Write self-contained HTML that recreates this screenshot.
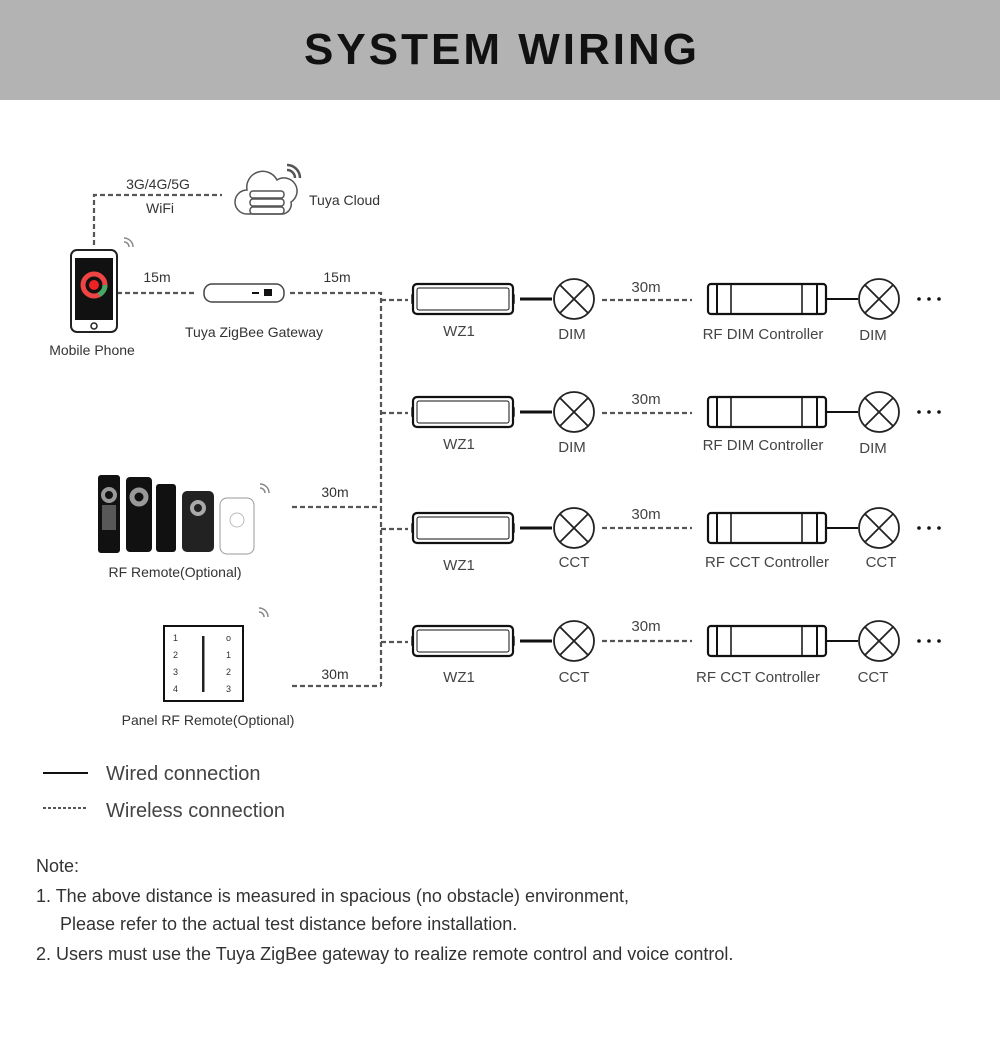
<!DOCTYPE html>
<html><head><meta charset="utf-8"><style>
html,body{margin:0;padding:0;background:#fff}
body{width:1000px;height:1036px;overflow:hidden;font-family:"Liberation Sans",sans-serif}
</style></head><body>
<svg width="1000" height="1036" viewBox="0 0 1000 1036" xmlns="http://www.w3.org/2000/svg" font-family="Liberation Sans, sans-serif">
<rect x="0" y="0" width="1000" height="100" fill="#b3b3b3"/>
<text x="502" y="64" text-anchor="middle" font-size="44" font-weight="bold" fill="#111" letter-spacing="3">SYSTEM WIRING</text>

<g stroke="#555" stroke-width="2.2" stroke-dasharray="5,3" fill="none">
<path d="M94 245 V195 H222"/>
<path d="M117 293 H196"/>
<path d="M290 293 H381 V686"/>
<path d="M381 300 H408"/>
<path d="M381 413 H408"/>
<path d="M381 529 H408"/>
<path d="M381 642 H408"/>
<path d="M292 507 H381"/>
<path d="M292 686 H381"/>
<path d="M602 300 H692"/><path d="M602 413 H692"/><path d="M602 528 H692"/><path d="M602 641 H692"/>
<path d="M43 808 H88" stroke-dasharray="3,2" stroke-width="2"/>
</g>
<path d="M43 773 H88" stroke="#111" stroke-width="2"/>

<g font-size="14" fill="#333">
<text x="158" y="189" text-anchor="middle">3G/4G/5G</text>
<text x="160" y="213" text-anchor="middle">WiFi</text>
<text x="309" y="205">Tuya Cloud</text>
<text x="157" y="282" text-anchor="middle">15m</text>
<text x="337" y="282" text-anchor="middle">15m</text>
<text x="254" y="337" text-anchor="middle">Tuya ZigBee Gateway</text>
<text x="92" y="355" text-anchor="middle">Mobile Phone</text>
<text x="335" y="497" text-anchor="middle">30m</text>
<text x="335" y="679" text-anchor="middle">30m</text>
<text x="175" y="577" text-anchor="middle">RF Remote(Optional)</text>
<text x="208" y="725" text-anchor="middle">Panel RF Remote(Optional)</text>
</g>

<!-- cloud -->
<g fill="none" stroke="#555" stroke-width="1.5">
<path d="M247 214 a12 12 0 0 1 0-24 a16 16 0 0 1 30-10 a12 12 0 0 1 14 22 a10 10 0 0 1 -8 12 z"/>
<rect x="250" y="191" width="34" height="7" rx="3"/><rect x="250" y="199" width="34" height="7" rx="3"/><rect x="250" y="207" width="34" height="7" rx="3"/>
<path d="M287 170 a8 8 0 0 1 8 8 M287 165 a13 13 0 0 1 13 13" stroke-width="2.5"/>
</g>
<!-- phone -->
<rect x="71" y="250" width="46" height="82" rx="6" fill="#fff" stroke="#222" stroke-width="2"/>
<rect x="75" y="258" width="38" height="62" fill="#111"/>
<circle cx="94" cy="285" r="11" fill="none" stroke="#e44" stroke-width="5"/>
<circle cx="94" cy="285" r="11" fill="none" stroke="#4a6" stroke-width="5" stroke-dasharray="12,60"/>
<circle cx="94" cy="285" r="5" fill="#e22"/>
<circle cx="94" cy="326" r="3" fill="none" stroke="#222" stroke-width="1.5"/>
<!-- gateway -->
<rect x="204" y="284" width="80" height="18" rx="8" fill="#fff" stroke="#444" stroke-width="1.5"/>
<rect x="264" y="289" width="8" height="7" fill="#111"/><rect x="252" y="292" width="7" height="2" fill="#111"/>

<!-- remotes -->
<rect x="98" y="475" width="22" height="78" rx="3" fill="#111"/>
<circle cx="109" cy="495" r="6" fill="none" stroke="#999" stroke-width="4"/>
<rect x="102" y="505" width="14" height="25" fill="#888" opacity=".6"/>
<rect x="126" y="477" width="26" height="75" rx="4" fill="#111"/>
<circle cx="139" cy="497" r="7" fill="none" stroke="#999" stroke-width="5"/>
<rect x="156" y="484" width="20" height="68" rx="3" fill="#111"/>
<rect x="182" y="491" width="32" height="61" rx="5" fill="#222"/>
<circle cx="198" cy="508" r="6" fill="none" stroke="#aaa" stroke-width="4"/>
<rect x="220" y="498" width="34" height="56" rx="7" fill="#fff" stroke="#999"/>
<circle cx="237" cy="520" r="7" fill="none" stroke="#bbb"/>
<!-- panel -->
<rect x="164" y="626" width="79" height="75" fill="#fff" stroke="#111" stroke-width="2"/>
<g font-size="9" fill="#333"><text x="173" y="641">1</text><text x="173" y="658">2</text><text x="173" y="675">3</text><text x="173" y="692">4</text>
<text x="226" y="641">o</text><text x="226" y="658">1</text><text x="226" y="675">2</text><text x="226" y="692">3</text></g>
<rect x="202" y="636" width="2.5" height="56" fill="#222"/>
<g fill="none" stroke="#888" stroke-width="1.5">
<path d="M124 242 a5 5 0 0 1 5 5 M124 238 a9 9 0 0 1 9 9"/>
<path d="M260 488 a5 5 0 0 1 5 5 M260 484 a9 9 0 0 1 9 9"/>
<path d="M259 612 a5 5 0 0 1 5 5 M259 608 a9 9 0 0 1 9 9"/>
</g>

<!-- rows -->
<g id="r1">
</g>
<g font-size="15" fill="#444" text-anchor="middle">
<text x="459" y="336">WZ1</text><text x="459" y="449">WZ1</text><text x="459" y="570">WZ1</text><text x="459" y="682">WZ1</text>
<text x="572" y="339">DIM</text><text x="572" y="452">DIM</text><text x="574" y="567">CCT</text><text x="574" y="682">CCT</text>
<text x="646" y="292">30m</text><text x="646" y="404">30m</text><text x="646" y="519">30m</text><text x="646" y="631">30m</text>
<text x="763" y="339">RF DIM Controller</text><text x="763" y="450">RF DIM Controller</text><text x="767" y="567">RF CCT Controller</text><text x="758" y="682">RF CCT Controller</text>
<text x="873" y="340">DIM</text><text x="873" y="453">DIM</text><text x="881" y="567">CCT</text><text x="873" y="682">CCT</text>
</g>
<defs>
<g id="row">
<path d="M416 -4 h-4 v8 h4 M510 -4 h4 v8 h-4" fill="none" stroke="#222" stroke-width="1.5"/>
<rect x="413" y="-15" width="100" height="30" rx="4" fill="#fff" stroke="#111" stroke-width="2.2"/>
<rect x="417" y="-11" width="92" height="22" rx="2" fill="none" stroke="#111" stroke-width="1"/>
<line x1="520" y1="0" x2="552" y2="0" stroke="#111" stroke-width="3"/>
<circle cx="574" cy="0" r="20" fill="#fff" stroke="#222" stroke-width="1.8"/>
<path d="M560 -14 L588 14 M588 -14 L560 14" stroke="#222" stroke-width="1.8"/>
<rect x="708" y="-15" width="118" height="30" rx="3" fill="#fff" stroke="#111" stroke-width="2.2"/>
<line x1="717" y1="-14" x2="717" y2="14" stroke="#111" stroke-width="2"/>
<line x1="731" y1="-14" x2="731" y2="14" stroke="#111" stroke-width="1.5"/>
<line x1="802" y1="-14" x2="802" y2="14" stroke="#111" stroke-width="1.5"/>
<line x1="817" y1="-14" x2="817" y2="14" stroke="#111" stroke-width="2"/>
<line x1="826" y1="0" x2="858" y2="0" stroke="#111" stroke-width="2"/>
<circle cx="879" cy="0" r="20" fill="#fff" stroke="#222" stroke-width="1.8"/>
<path d="M865 -14 L893 14 M893 -14 L865 14" stroke="#222" stroke-width="1.8"/>
<circle cx="919" cy="0" r="1.8" fill="#111"/><circle cx="929" cy="0" r="1.8" fill="#111"/><circle cx="939" cy="0" r="1.8" fill="#111"/>
</g>
</defs>
<use href="#row" y="299"/><use href="#row" y="412"/><use href="#row" y="528"/><use href="#row" y="641"/>

<g font-size="20" fill="#444">
<text x="106" y="780">Wired connection</text>
<text x="106" y="817">Wireless connection</text>
</g>
<g font-size="18" fill="#333">
<text x="36" y="872">Note:</text>
<text x="36" y="902">1. The above distance is measured in spacious (no obstacle) environment,</text>
<text x="60" y="930">Please refer to the actual test distance before installation.</text>
<text x="36" y="960">2. Users must use the Tuya ZigBee gateway to realize remote control and voice control.</text>
</g>
</svg>
</body></html>
